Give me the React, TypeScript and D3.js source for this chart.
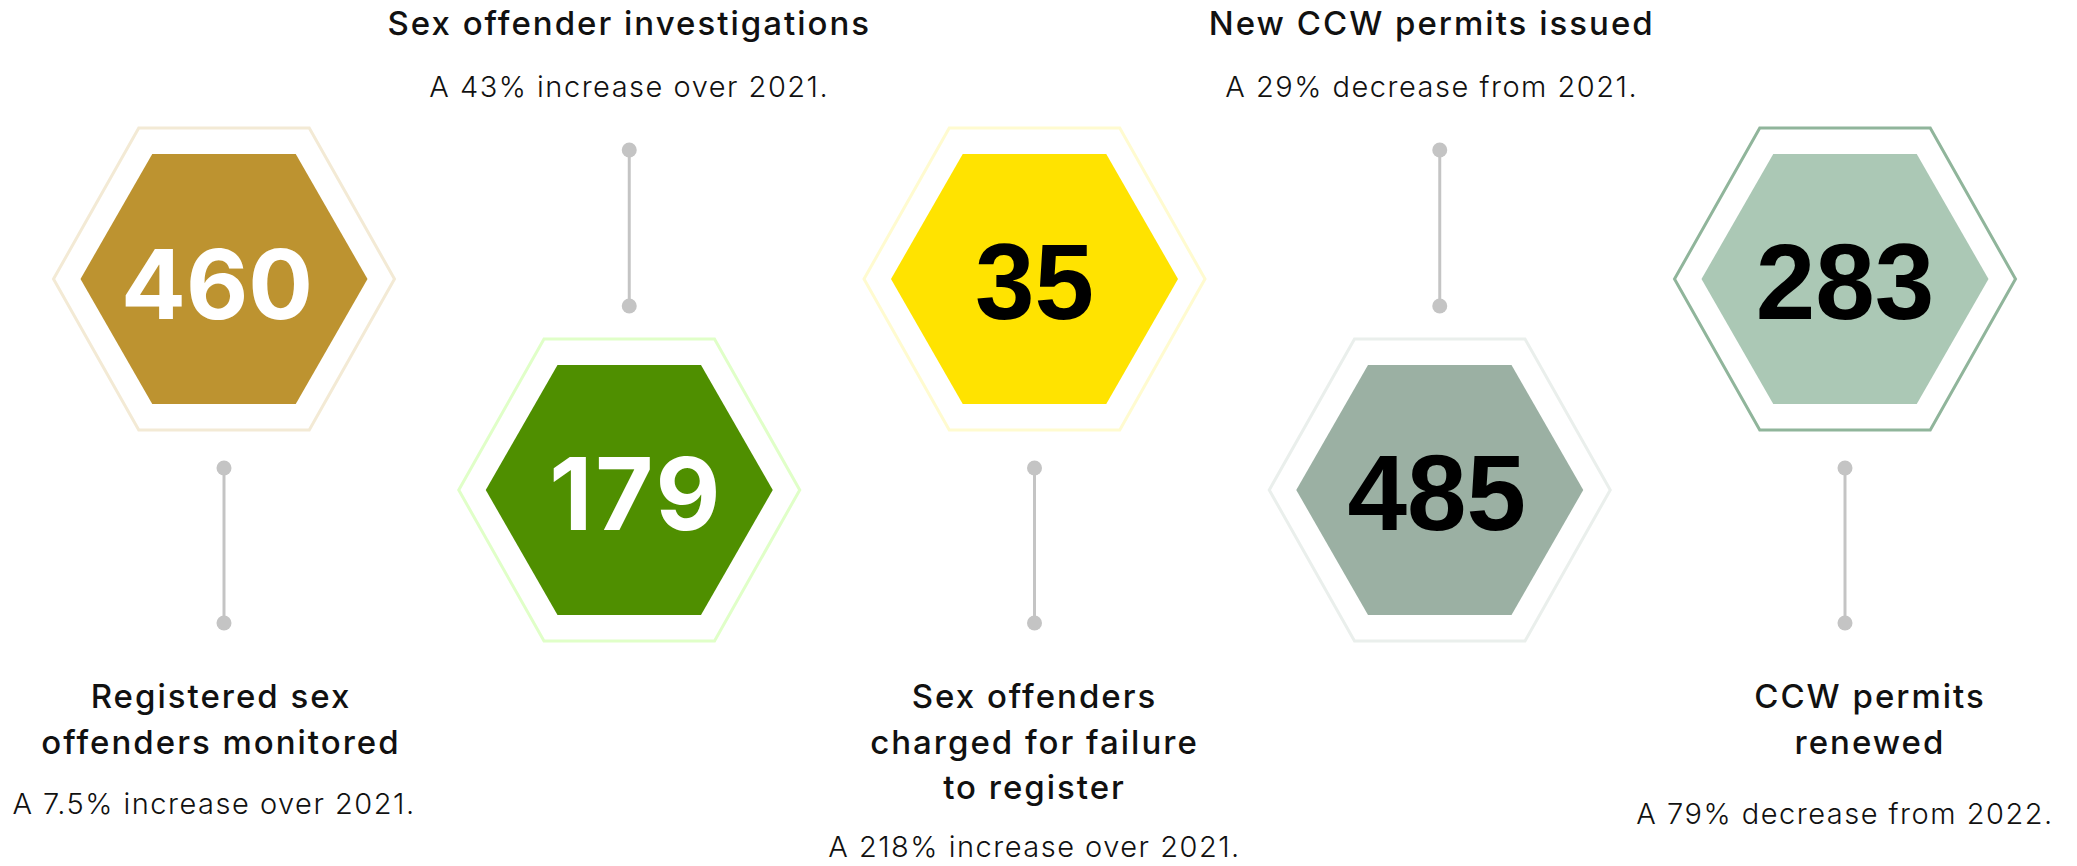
import React from "react";
import * as d3 from "d3";

const keys = ["monitored", "investigations", "charged", "newPermits", "renewed"];
const values = [460, 179, 35, 485, 283];
const titles = [
  ["Registered sex", "offenders monitored"],
  ["Sex offender investigations"],
  ["Sex offenders", "charged for failure", "to register"],
  ["New CCW permits issued"],
  ["CCW permits", "renewed"],
];
const changes = [
  "A 7.5% increase over 2021.",
  "A 43% increase over 2021.",
  "A 218% increase over 2021.",
  "A 29% decrease from 2021.",
  "A 79% decrease from 2022.",
];
const rows = ["up", "down", "up", "down", "up"];

// styling
const fills = ["#bd9330", "#4f8f00", "#ffe300", "#9bb0a3", "#abc8b5"];
const rims = ["#f3ead5", "#e0ffc8", "#fffbd0", "#eaefec", "#90b59b"];
const numberColors = ["#ffffff", "#ffffff", "#000000", "#000000", "#000000"];
const numberFonts = ["Inter", "Inter", "Liberation Sans", "Liberation Sans", "Liberation Sans"];
const numberSizes = [96, 100, 107, 107, 107];
const numberSpacing = [0, 3, 0, 0, 0];
const numberShift = [-7, 7, 0, -3, 0];
const titleShift = [-3, 0, 0, -8, 25];
const subShift = [-10, 0, 0, -8, 0];
const subGap = [60, 62, 58, 62, 70];

const W = 2077;
const H = 866;

function hexPath(w: number, h: number) {
  const pts: [number, number][] = [
    [-w, 0],
    [-w / 2, -h],
    [w / 2, -h],
    [w, 0],
    [w / 2, h],
    [-w / 2, h],
  ];
  return d3.line().curve(d3.curveLinearClosed)(pts) as string;
}

export default function App() {
  const x = d3.scalePoint<string>().domain(keys).range([224, 1845]).padding(0);
  const hexY = d3.scaleOrdinal<string, number>().domain(["up", "down"]).range([279, 490]);
  const dotTop = d3.scaleOrdinal<string, number>().domain(["up", "down"]).range([468, 150]);
  const dotBottom = d3.scaleOrdinal<string, number>().domain(["up", "down"]).range([623, 306]);
  const titleY = d3.scaleOrdinal<string, number>().domain(["up", "down"]).range([708, 35]);
  const lineH = 45.5;

  const outer = hexPath(170.5, 151);
  const inner = hexPath(143.5, 125);

  const titleFont = "Inter, 'Open Sans', sans-serif";

  return (
    <svg
      width={W}
      height={H}
      viewBox={`0 0 ${W} ${H}`}
      style={{ position: "absolute", left: 0, top: 0, background: "#fff" }}
    >
      {keys.map((k, i) => {
        const cx = x(k) as number;
        const row = rows[i];
        const cy = hexY(row);
        const t0 = titleY(row);
        const lines = titles[i];
        const subY = row === "up" ? t0 + (lines.length - 1) * lineH + subGap[i] : 97;
        return (
          <g key={k}>
            <path d={outer} transform={`translate(${cx},${cy})`} fill="none" stroke={rims[i]} strokeWidth={3} />
            <path d={inner} transform={`translate(${cx},${cy})`} fill={fills[i]} />
            <text
              x={cx + numberShift[i]}
              y={cy + 40}
              textAnchor="middle"
              fontFamily={numberFonts[i]}
              fontWeight={700}
              fontSize={numberSizes[i]}
              letterSpacing={numberSpacing[i]}
              fill={numberColors[i]}
            >
              {values[i]}
            </text>
            <line x1={cx} x2={cx} y1={dotTop(row)} y2={dotBottom(row)} stroke="#c4c4c4" strokeWidth={3} />
            <circle cx={cx} cy={dotTop(row)} r={7.5} fill="#c4c4c4" />
            <circle cx={cx} cy={dotBottom(row)} r={7.5} fill="#c4c4c4" />
            {lines.map((ln, j) => (
              <text
                key={j}
                x={cx + titleShift[i]}
                y={t0 + j * lineH}
                textAnchor="middle"
                fontFamily={titleFont}
                fontWeight={500}
                fontSize={33}
                letterSpacing={2}
                fill="#111"
              >
                {ln}
              </text>
            ))}
            <text
              x={cx + subShift[i]}
              y={subY}
              textAnchor="middle"
              fontFamily={titleFont}
              fontWeight={300}
              fontSize={29}
              letterSpacing={1.5}
              fill="#111"
            >
              {changes[i]}
            </text>
          </g>
        );
      })}
    </svg>
  );
}
